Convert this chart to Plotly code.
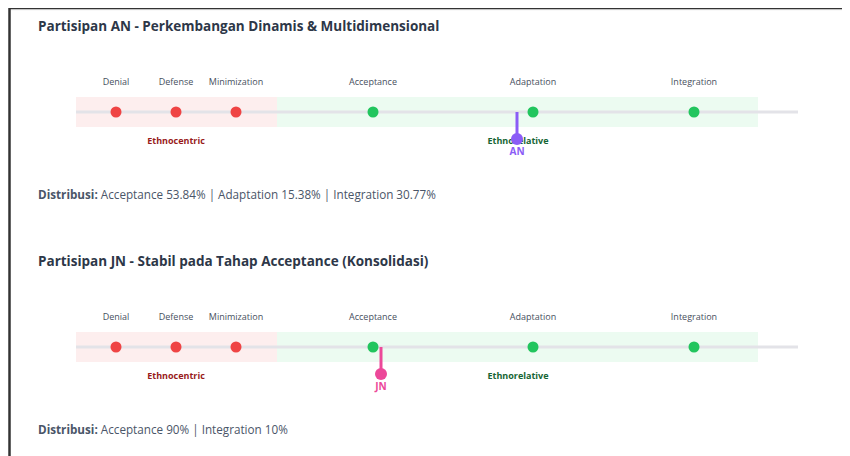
import plotly.graph_objects as go

# ---- data ----
stages = ["Denial", "Defense", "Minimization", "Acceptance", "Adaptation", "Integration"]
stage_zone = ["Ethnocentric", "Ethnocentric", "Ethnocentric", "Ethnorelative", "Ethnorelative", "Ethnorelative"]
stage_pos = [116, 176, 236, 373, 533, 694]          # position of each stage on the continuum scale
zones = ["Ethnocentric", "Ethnorelative"]
zone_start = [76, 277]
zone_end = [277, 758]
zone_label_pos = [176, 518]
scale_end = 798

participants = ["AN", "JN"]
titles = ["Partisipan AN - Perkembangan Dinamis & Multidimensional",
          "Partisipan JN - Stabil pada Tahap Acceptance (Konsolidasi)"]
participant_pos = [517, 381]
distributions = ["Acceptance 53.84% | Adaptation 15.38% | Integration 30.77%",
                 "Acceptance 90% | Integration 10%"]

# ---- style ----
FONT = "Open Sans"
panel_base = [112, 347]
zone_fill = ["#fdeeee", "#ecfbf1"]
zone_text = ["#991b1b", "#166534"]
dot_col = {"Ethnocentric": "#ef4444", "Ethnorelative": "#22c55e"}
p_col = ["#8b5cf6", "#ec4899"]

fig = go.Figure()
shapes = []
annotations = []

for i, base in enumerate(panel_base):
    # zone bands
    for z in range(len(zones)):
        shapes.append(dict(type="rect", xref="x", yref="y", x0=zone_start[z], x1=zone_end[z],
                           y0=base - 15, y1=base + 15, fillcolor=zone_fill[z], line_width=0, layer="below"))
    # track line
    shapes.append(dict(type="line", xref="x", yref="y", x0=zone_start[0], x1=scale_end,
                       y0=base, y1=base, line=dict(color="#e3e3e8", width=3), layer="below"))
    # stage labels
    fig.add_trace(go.Scatter(x=stage_pos, y=[base - 29] * len(stages), mode="text", text=stages,
                             textfont=dict(family=FONT, size=9, color="#475060"),
                             hoverinfo="skip", showlegend=False))
    # stage dots
    fig.add_trace(go.Scatter(x=stage_pos, y=[base] * len(stages), mode="markers",
                             marker=dict(size=11, color=[dot_col[z] for z in stage_zone], line_width=0),
                             hoverinfo="text", hovertext=stages, showlegend=False))
    # zone labels
    fig.add_trace(go.Scatter(x=zone_label_pos, y=[base + 30] * 2, mode="text",
                             text=["<b>%s</b>" % z for z in zones],
                             textfont=dict(family=FONT, size=9, color=zone_text),
                             hoverinfo="skip", showlegend=False))
    # participant marker
    px = participant_pos[i]
    fig.add_trace(go.Scatter(x=[px, px], y=[base, base + 27], mode="lines",
                             line=dict(color=p_col[i], width=3), hoverinfo="skip", showlegend=False))
    fig.add_trace(go.Scatter(x=[px], y=[base + 27], mode="markers",
                             marker=dict(size=12, color=p_col[i], line_width=0),
                             hoverinfo="text", hovertext=participants[i], showlegend=False))
    fig.add_trace(go.Scatter(x=[px], y=[base + 40], mode="text", text=["<b>%s</b>" % participants[i]],
                             textfont=dict(family=FONT, size=10, color=p_col[i]),
                             hoverinfo="skip", showlegend=False))
    # title
    annotations.append(dict(x=36, y=base - 86, xref="x", yref="y", xanchor="left", yanchor="middle",
                            text="<b>%s</b>" % titles[i], showarrow=False,
                            font=dict(family=FONT, size=13.5, color="#2d3748")))
    # distribution
    annotations.append(dict(x=36, y=base + 82, xref="x", yref="y", xanchor="left", yanchor="middle",
                            text="<b>Distribusi:</b> " + distributions[i], showarrow=False,
                            font=dict(family=FONT, size=11.7, color="#4a5568")))

# frame lines (top and left)
shapes.append(dict(type="line", xref="x", yref="y", x0=9, x1=850, y0=8, y1=8,
                   line=dict(color="#333333", width=2)))
shapes.append(dict(type="line", xref="x", yref="y", x0=9, x1=850, y0=9.6, y1=9.6,
                   line=dict(color="#bdbdbd", width=1)))
shapes.append(dict(type="line", xref="x", yref="y", x0=9.5, x1=9.5, y0=7, y1=456,
                   line=dict(color="#333333", width=2.5)))

# the page body adds an 8px margin, so the figure covers page pixels 8..850 / 8..456
fig.update_layout(
    width=842, height=448, autosize=False,
    margin=dict(l=0, r=0, t=0, b=0),
    paper_bgcolor="white", plot_bgcolor="white",
    xaxis=dict(range=[8, 850], visible=False, fixedrange=True),
    yaxis=dict(range=[456, 8], visible=False, fixedrange=True),
    shapes=shapes, annotations=annotations, showlegend=False,
)

fig.write_html("out.html")
